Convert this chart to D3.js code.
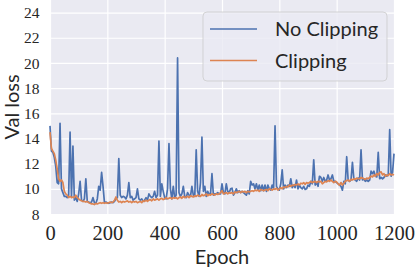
<!DOCTYPE html>
<html>
<head>
<meta charset="utf-8">
<script src="https://cdn.jsdelivr.net/npm/d3@7"></script>
<style>
  html, body { margin: 0; padding: 0; background: #fff; }
  svg { display: block; }
</style>
</head>
<body>
<svg id="chart" width="415" height="268"></svg>
<script>
// ---- data ----
const epochs = d3.range(0, 1201, 5);
const noClipping = [
  15.0, 13.0, 12.9, 12.5, 11.8, 10.5, 10.4, 15.2, 10.0, 9.7, 9.4, 9.4, 9.3, 9.5, 14.5, 9.4, 13.4, 9.1, 9.3, 9.0,
  9.6, 10.6, 9.1, 9.0, 9.2, 10.8, 9.0, 8.95, 8.9, 8.95, 9.3, 8.9, 8.85, 9.2, 10.2, 9.9, 11.3, 10.2, 8.9, 8.95,
  8.9, 8.85, 8.9, 8.95, 8.9, 9.0, 9.2, 9.3, 12.4, 9.5, 9.3, 9.4, 9.35, 9.2, 9.5, 10.5, 9.3, 9.4, 9.1, 9.2,
  9.3, 10.0, 9.2, 9.1, 9.2, 9.0, 9.1, 9.3, 9.1, 9.6, 9.4, 9.3, 9.4, 9.8, 9.3, 9.5, 13.8, 9.4, 10.4, 9.8,
  9.3, 9.2, 10.0, 13.6, 10.0, 9.2, 10.2, 9.3, 9.5, 20.4, 9.7, 9.4, 9.6, 10.2, 9.4, 9.3, 9.7, 9.5, 9.4, 10.2,
  9.5, 9.4, 13.1, 9.8, 9.4, 10.5, 14.1, 9.8, 10.2, 9.4, 9.8, 9.6, 9.6, 11.2, 9.5, 9.6, 9.6, 9.7, 9.6, 9.6,
  10.4, 9.7, 9.6, 10.4, 9.8, 9.7, 10.0, 10.05, 9.5, 9.7, 10.0, 9.7, 9.85, 9.7, 9.8, 9.7, 9.6, 9.5, 9.85, 9.6,
  10.6, 10.3, 10.4, 10.0, 10.4, 9.9, 10.3, 9.85, 10.3, 9.85, 10.3, 9.8, 10.3, 10.0, 9.9, 10.3, 10.0, 15.0, 10.2, 10.0,
  9.9, 10.4, 11.5, 10.0, 10.3, 10.1, 10.3, 10.2, 10.8, 10.1, 10.3, 10.1, 10.7, 10.0, 10.3, 10.1, 10.0, 10.2, 9.95, 10.0,
  10.3, 10.2, 10.6, 10.4, 12.3, 10.3, 10.5, 10.2, 11.0, 10.9, 10.6, 10.9, 10.6, 10.7, 11.1, 10.7, 10.8, 11.1, 10.6, 10.6,
  10.5, 10.4, 10.3, 10.2, 9.9, 10.6, 10.4, 12.55, 10.7, 10.6, 10.7, 12.1, 10.8, 10.7, 10.6, 10.85, 10.7, 13.1, 10.7, 10.8,
  10.6, 10.7, 10.6, 10.7, 11.4, 11.2, 11.4, 11.0, 10.95, 12.9, 10.8, 10.9, 10.8, 10.9, 11.1, 11.0, 11.1, 14.7, 11.0, 11.3,
  12.8
];
const clipping = [
  14.5, 13.2, 13.0, 12.8, 12.3, 11.6, 10.8, 10.6, 10.7, 10.5, 9.8, 9.6, 9.5, 9.3, 9.4, 9.3, 9.35, 9.3, 9.5, 9.3,
  9.2, 9.1, 9.05, 9.0, 9.0, 8.95, 9.0, 8.9, 8.85, 8.8, 8.8, 8.75, 8.85, 8.8, 8.85, 8.9, 8.85, 8.9, 8.85, 8.9,
  8.85, 8.9, 8.95, 8.9, 8.95, 9.1, 9.35, 9.1, 8.95, 9.0, 8.9, 9.0, 8.95, 9.0, 9.05, 8.95, 9.0, 8.9, 9.0, 8.95,
  9.0, 8.9, 8.95, 9.0, 8.9, 9.05, 9.0, 9.1, 9.0, 9.1, 9.15, 9.05, 9.2, 9.1, 9.15, 9.2, 9.1, 9.2, 9.25, 9.15,
  9.2, 9.3, 9.2, 9.25, 9.3, 9.2, 9.3, 9.25, 9.3, 9.2, 9.3, 9.35, 9.25, 9.4, 9.3, 9.35, 9.4, 9.3, 9.45, 9.4,
  9.35, 9.45, 9.4, 9.5, 9.45, 9.4, 9.55, 9.45, 9.5, 9.6, 9.45, 9.55, 9.5, 9.6, 9.55, 9.5, 9.6, 9.55, 9.6, 9.7,
  9.85, 9.6, 9.65, 9.7, 9.6, 9.7, 9.65, 9.7, 9.6, 9.75, 9.7, 9.75, 9.8, 9.7, 9.8, 9.75, 9.8, 9.7, 9.8, 9.75,
  9.8, 9.85, 9.8, 9.9, 9.85, 9.9, 9.8, 9.95, 9.9, 9.85, 9.9, 9.95, 9.85, 10.0, 9.95, 9.9, 10.0, 9.95, 10.05, 9.9,
  10.0, 10.1, 10.0, 10.15, 10.1, 10.2, 10.15, 10.3, 10.2, 10.3, 10.25, 10.35, 10.3, 10.4, 10.3, 10.45, 10.4, 10.5, 10.35, 10.5,
  10.45, 10.5, 10.6, 10.5, 10.55, 10.6, 10.5, 10.6, 10.55, 10.6, 10.4, 10.5, 10.6, 10.55, 10.65, 10.6, 10.7, 10.6, 10.5, 10.6,
  10.55, 10.4, 10.3, 10.5, 10.3, 10.45, 10.6, 10.65, 10.7, 10.6, 10.75, 10.7, 10.8, 10.75, 10.85, 10.8, 10.8, 10.9, 10.85, 10.8,
  10.75, 10.85, 10.8, 10.9, 11.0, 10.95, 11.1, 11.0, 11.2, 11.1, 11.3, 11.35, 11.1, 11.2, 11.0, 11.1, 11.05, 11.2, 11.1, 11.15,
  11.1
];
const xTicks = [0, 200, 400, 600, 800, 1000, 1200];
const yTicks = [8, 10, 12, 14, 16, 18, 20, 22, 24];
const seriesNames = ["No Clipping", "Clipping"];
const seriesColors = ["#4c72b0", "#dd8452"];

// ---- layout ----
const svg = d3.select("#chart");
const plot = { left: 50, right: 394, top: 0, bottom: 214 };
const x = d3.scaleLinear().domain([0, 1200]).range([plot.left, plot.right]);
const y = d3.scaleLinear().domain([8, 25]).range([plot.bottom, plot.top]);

svg.append("rect")
  .attr("x", plot.left).attr("y", plot.top)
  .attr("width", plot.right - plot.left).attr("height", plot.bottom - plot.top)
  .attr("fill", "#eaeaf2");

// grid via axes
const serif = "'Liberation Serif', 'Times New Roman', serif";
const gx = svg.append("g").attr("transform", `translate(0,${plot.bottom})`)
  .call(d3.axisBottom(x).tickValues(xTicks).tickSize(-(plot.bottom - plot.top)).tickFormat(d3.format("d")));
gx.select(".domain").remove();
gx.selectAll(".tick line").attr("stroke", "#fff").attr("stroke-width", 1.2);
gx.selectAll(".tick text")
  .attr("font-family", serif)
  .attr("font-size", 20.5).attr("fill", "#262626").attr("dy", 0).attr("y", 25.5);

const gy = svg.append("g").attr("transform", `translate(${plot.left},0)`)
  .call(d3.axisLeft(y).tickValues(yTicks).tickSize(-(plot.right - plot.left)));
gy.select(".domain").remove();
gy.selectAll(".tick line").attr("stroke", "#fff").attr("stroke-width", 1.2);
gy.selectAll(".tick text")
  .attr("font-family", serif)
  .attr("font-size", 15.5).attr("fill", "#262626").attr("x", -10.5).attr("dy", "0.33em");

// lines
const seriesData = [noClipping, clipping];
const line = d3.line().x((d, i) => x(epochs[i])).y(d => y(d));
seriesData.forEach((vals, k) => {
  svg.append("path")
    .datum(vals)
    .attr("fill", "none")
    .attr("stroke", seriesColors[k])
    .attr("stroke-width", 1.7)
    .attr("stroke-linejoin", "round")
    .attr("d", line);
});

// axis labels
const sans = "Lato, 'Open Sans', 'DejaVu Sans', sans-serif";
svg.append("text")
  .attr("x", (plot.left + plot.right) / 2).attr("y", 264)
  .attr("text-anchor", "middle")
  .attr("font-family", sans).attr("font-size", 20).attr("fill", "#262626")
  .text("Epoch");
svg.append("text")
  .attr("transform", `translate(19,${(plot.top + plot.bottom) / 2}) rotate(-90)`)
  .attr("text-anchor", "middle")
  .attr("font-family", sans).attr("font-size", 20).attr("fill", "#262626")
  .text("Val loss");

// legend
const lg = svg.append("g");
lg.append("rect")
  .attr("x", 203).attr("y", 12).attr("width", 184).attr("height", 69)
  .attr("rx", 4).attr("ry", 4)
  .attr("fill", "#eaeaf2").attr("fill-opacity", 0.8)
  .attr("stroke", "#cccccc").attr("stroke-opacity", 0.8).attr("stroke-width", 1);
seriesNames.forEach((name, k) => {
  const cy = 29 + k * 31.5;
  lg.append("line")
    .attr("x1", 210).attr("x2", 257).attr("y1", cy).attr("y2", cy)
    .attr("stroke", seriesColors[k]).attr("stroke-width", 1.7);
  lg.append("text")
    .attr("x", 275).attr("y", cy + 7.2)
    .attr("font-family", sans).attr("font-size", 20).attr("fill", "#262626")
    .text(name);
});
</script>
</body>
</html>
